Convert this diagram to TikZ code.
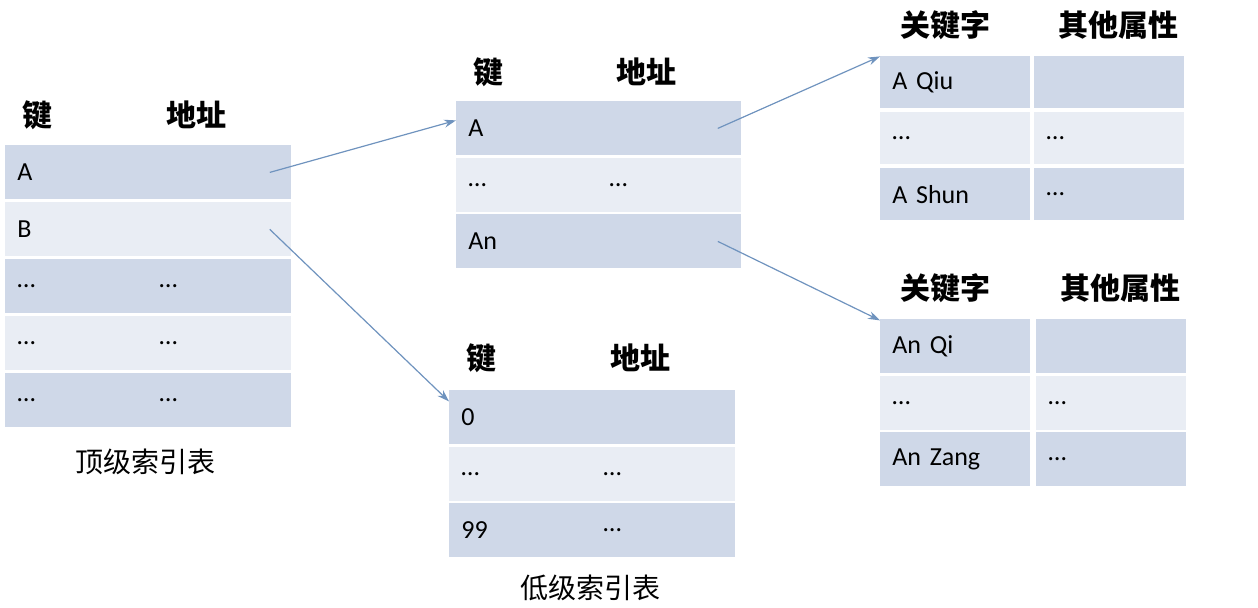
\documentclass[tikz,border=0pt]{standalone}
\usepackage{fontspec}
\setmainfont{Carlito}
\newfontfamily\cjk{Noto Sans CJK SC}
\definecolor{rowdark}{HTML}{CFD8E8}
\definecolor{rowlight}{HTML}{E9EDF4}
\definecolor{linkblue}{HTML}{6F93BE}
\usetikzlibrary{arrows.meta}
\tikzset{
  cell/.style={anchor=north west, minimum height=27pt, text width=60pt, inner xsep=6pt, inner ysep=0pt, align=left, font=\fontsize{13}{13}\selectfont},
  head/.style={font=\cjk\bfseries\fontsize{15}{15}\selectfont},
  caption/.style={font=\cjk\fontsize{14}{14}\selectfont},
  link/.style={draw=linkblue, line width=0.6pt, -{Stealth[length=6pt,width=4pt]}}
}
\begin{document}
\begin{tikzpicture}[x={(0.5pt,0)}, y={(0,-0.5pt)}]
  \useasboundingbox (0,0) rectangle (1258,608);

  % top-level index
  \node[head] (top-h1) at (37,115) {键};
  \node[head] (top-h2) at (196,115) {地址};
  \foreach \k/\a/\c [count=\i] in {A//rowdark, B//rowlight, …/…/rowdark, …/…/rowlight, …/…/rowdark}{
    \node[cell, fill=\c] (top-\i-1) at (5,{145+57*(\i-1)}) {\k};
    \node[cell, fill=\c] (top-\i-2) at (147,{145+57*(\i-1)}) {\a};
  }
  \node[caption] (top-cap) at (145,462) {顶级索引表};

  % middle index
  \node[head] (mid-h1) at (488,72) {键};
  \node[head] (mid-h2) at (646,72) {地址};
  \foreach \k/\a/\c [count=\i] in {A//rowdark, …/…/rowlight, An//rowdark}{
    \node[cell, fill=\c] (mid-\i-1) at (456,{101+56.5*(\i-1)}) {\k};
    \node[cell, fill=\c] (mid-\i-2) at (597,{101+56.5*(\i-1)}) {\a};
  }

  % low index
  \node[head] (low-h1) at (481,358) {键};
  \node[head] (low-h2) at (640,358) {地址};
  \foreach \k/\a/\c [count=\i] in {0//rowdark, …/…/rowlight, 99/…/rowdark}{
    \node[cell, fill=\c] (low-\i-1) at (449,{390+56.5*(\i-1)}) {\k};
    \node[cell, fill=\c] (low-\i-2) at (591,{390+56.5*(\i-1)}) {\a};
  }
  \node[caption] (low-cap) at (590,588) {低级索引表};

  % records A
  \node[head] (ra-h1) at (945,25) {关键字};
  \node[head] (ra-h2) at (1118,25) {其他属性};
  \foreach \k/\a/\c [count=\i] in {A Qiu//rowdark, …/…/rowlight, A Shun/…/rowdark}{
    \node[cell, fill=\c, minimum height=26pt, text width=63pt] (ra-\i-1) at (880,{56+56*(\i-1)}) {\k};
    \node[cell, fill=\c, minimum height=26pt, text width=63pt] (ra-\i-2) at (1034,{56+56*(\i-1)}) {\a};
  }

  % records An
  \node[head] (rb-h1) at (945,288) {关键字};
  \node[head] (rb-h2) at (1120,288) {其他属性};
  \foreach \k/\a/\c [count=\i] in {An Qi//rowdark, …/…/rowlight, An Zang/…/rowdark}{
    \node[cell, fill=\c, minimum height=27pt, text width=63pt] (rb-\i-1) at (880,{319+56.5*(\i-1)}) {\k};
    \node[cell, fill=\c, minimum height=27pt, text width=63pt] (rb-\i-2) at (1036,{319+56.5*(\i-1)}) {\a};
  }

  % links
  \coordinate (top-a) at ([xshift=-11pt]top-1-2.east);
  \coordinate (top-b) at ([xshift=-11pt]top-2-2.east);
  \coordinate (mid-a) at ([xshift=-12pt]mid-1-2.east);
  \coordinate (mid-an) at ([xshift=-12pt]mid-3-2.east);
  \draw[link] (top-a) -- ([yshift=4pt]mid-1-1.west);
  \draw[link] (top-b) -- ([yshift=8pt]low-1-1.west);
  \draw[link] (mid-a) -- ([yshift=13pt]ra-1-1.west);
  \draw[link] (mid-an) -- ([yshift=13pt]rb-1-1.west);
\end{tikzpicture}
\end{document}
